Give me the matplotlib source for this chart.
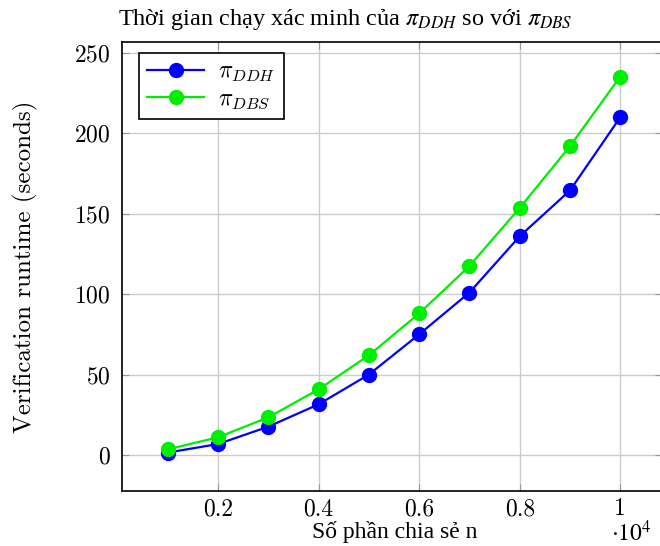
import numpy as np
import matplotlib
matplotlib.use("Agg")
from matplotlib import pyplot as plt

# data (x in units of 10^4)
n_shares = [0.1, 0.2, 0.3, 0.4, 0.5, 0.6, 0.7, 0.8, 0.9, 1.0]
t_ddh = [1.5, 6.8, 17.6, 31.5, 50, 75, 101, 136, 164.5, 210]
t_dbs = [3.5, 11, 23.4, 40.8, 62, 88, 117.5, 153.6, 192, 235.3]
xticks = [0.2, 0.4, 0.6, 0.8, 1.0]
xtick_labels = ["0.2", "0.4", "0.6", "0.8", "1"]
yticks = [0, 50, 100, 150, 200, 250]

plt.rcParams["axes.formatter.use_mathtext"] = True

fig = plt.figure(figsize=(6.6, 5.46), dpi=100)
ax = fig.add_axes([122 / 660, 1 - 491 / 546, 540 / 660, 449 / 546])

ax.plot(n_shares, t_ddh, color="#0000ff", lw=1.6, marker="o", ms=10, label=r"$\pi_{DDH}$")
ax.plot(n_shares, t_dbs, color="#00ee00", lw=1.6, marker="o", ms=10, label=r"$\pi_{DBS}$")

ax.set_xlim(0.009, 1.083)
ax.set_ylim(-22.4, 256.8)
ax.set_xticks(xticks)
ax.set_xticklabels(xtick_labels)
ax.set_yticks(yticks)
ax.grid(True, color="#cccccc", lw=1)
ax.set_axisbelow(True)
ax.tick_params(direction="in", length=5, color="#999999", labelsize=17,
               top=True, right=True, pad=8)
ax.tick_params(axis="x", pad=5)
for lab in ax.get_xticklabels() + ax.get_yticklabels():
    lab.set_family("cmr10")
for sp in ax.spines.values():
    sp.set_linewidth(1.2)

ax.set_ylabel("Verification runtime (seconds)", family="cmr10", fontsize=18, va="center")
ax.yaxis.set_label_coords(-(122 - 25) / 540, 0.5)
ax.set_xlabel("Số phần chia sẻ n", family="Liberation Serif", fontsize=17, va="center")
ax.xaxis.set_label_coords((395 - 122) / 540, -(532 - 491) / 449)
fig.text(611 / 660, 1 - 533 / 546, r"$\cdot10^4$", fontsize=17, math_fontfamily="stix",
         ha="left", va="center")

fig.text(118 / 660, 1 - 20 / 546,
         r"Thời gian chạy xác minh của $\pi_{DDH}$ so với $\pi_{DBS}$",
         family="Liberation Serif", math_fontfamily="stix", fontsize=17.5,
         ha="left", va="center")

leg = ax.legend(loc="upper left", bbox_to_anchor=((139 - 122) / 540, (491 - 53) / 449),
                prop={"family": "cmr10", "size": 17, "math_fontfamily": "cm"},
                fancybox=False, edgecolor="black", framealpha=1, borderaxespad=0,
                handlelength=2.4, borderpad=0.35, labelspacing=0.15, handletextpad=0.6)
leg.get_frame().set_linewidth(1.2)

fig.savefig("out.png", dpi=100)
